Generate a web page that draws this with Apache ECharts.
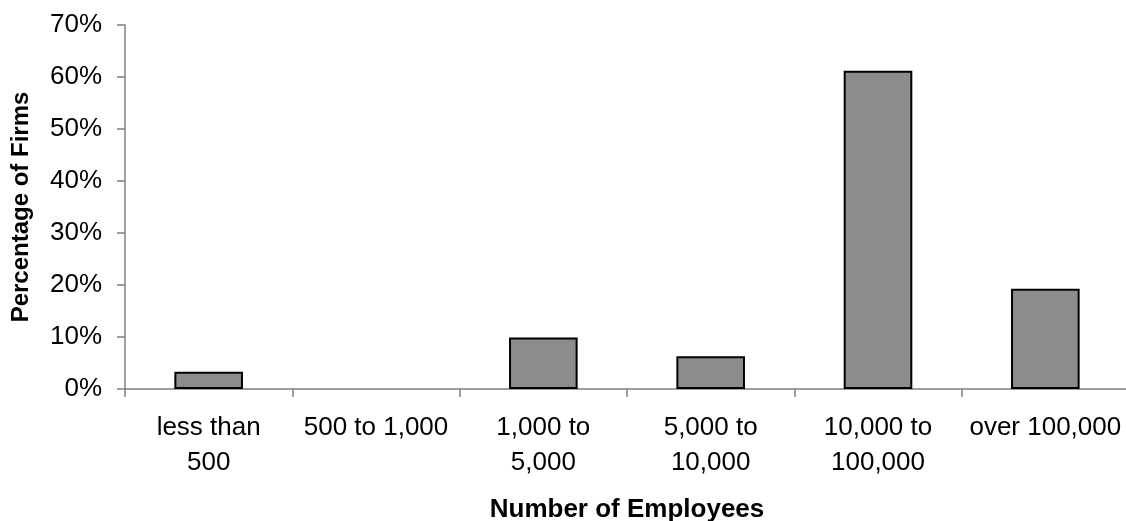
<!DOCTYPE html>
<html>
<head>
<meta charset="utf-8">
<script src="https://cdn.jsdelivr.net/npm/echarts@6/dist/echarts.min.js"></script>
<style>
  html, body { margin: 0; padding: 0; background: #ffffff; }
  #chart { width: 1126px; height: 521px; }
</style>
</head>
<body>
<div id="chart"></div>
<script>
// Share of firms by company size (percent)
const categories = ['less than\n500', '500 to 1,000', '1,000 to\n5,000', '5,000 to\n10,000', '10,000 to\n100,000', 'over 100,000'];
const percentFirms = [3.3, 0, 9.9, 6.3, 61.2, 19.3];
const yTicks = { min: 0, max: 70, interval: 10 };

const FONT = '"Liberation Sans", Arial, Helvetica, sans-serif';
const AXIS_GRAY = '#808080';

// an empty category gets no outline, so nothing shows on the baseline
const barData = percentFirms.map(v => v === 0 ? { value: v, itemStyle: { borderWidth: 0, opacity: 0 } } : v);

const chart = echarts.init(document.getElementById('chart'), null, { renderer: 'canvas' });
chart.setOption({
  backgroundColor: '#ffffff',
  animation: false,
  grid: { left: 125, right: -3, top: 25, bottom: 132, containLabel: false, outerBoundsMode: 'none' },
  xAxis: {
    type: 'category',
    data: categories,
    name: 'Number of Employees',
    nameLocation: 'middle',
    nameGap: 108,
    nameTextStyle: { fontFamily: FONT, fontSize: 26, fontWeight: 'bold', color: '#000' },
    axisLine: { show: true, lineStyle: { color: AXIS_GRAY, width: 1.5 } },
    axisTick: { show: true, alignWithLabel: false, length: 8, lineStyle: { color: AXIS_GRAY, width: 1.5 } },
    axisLabel: { fontFamily: FONT, fontSize: 26, color: '#000', margin: 21, lineHeight: 35, interval: 0 },
    splitLine: { show: false }
  },
  yAxis: {
    type: 'value',
    min: yTicks.min,
    max: yTicks.max,
    interval: yTicks.interval,
    name: 'Percentage of Firms',
    nameLocation: 'middle',
    nameGap: 92,
    nameTextStyle: { fontFamily: FONT, fontSize: 24, fontWeight: 'bold', color: '#000' },
    axisLine: { show: true, lineStyle: { color: AXIS_GRAY, width: 1.5 } },
    axisTick: { show: true, length: 8, lineStyle: { color: AXIS_GRAY, width: 1.5 } },
    axisLabel: { fontFamily: FONT, fontSize: 26, color: '#000', margin: 23, formatter: '{value}%' },
    splitLine: { show: false }
  },
  series: [{
    type: 'bar',
    data: barData,
    barWidth: '41%',
    itemStyle: { color: '#8c8c8c', borderColor: '#000000', borderWidth: 2 }
  }]
});
</script>
</body>
</html>
